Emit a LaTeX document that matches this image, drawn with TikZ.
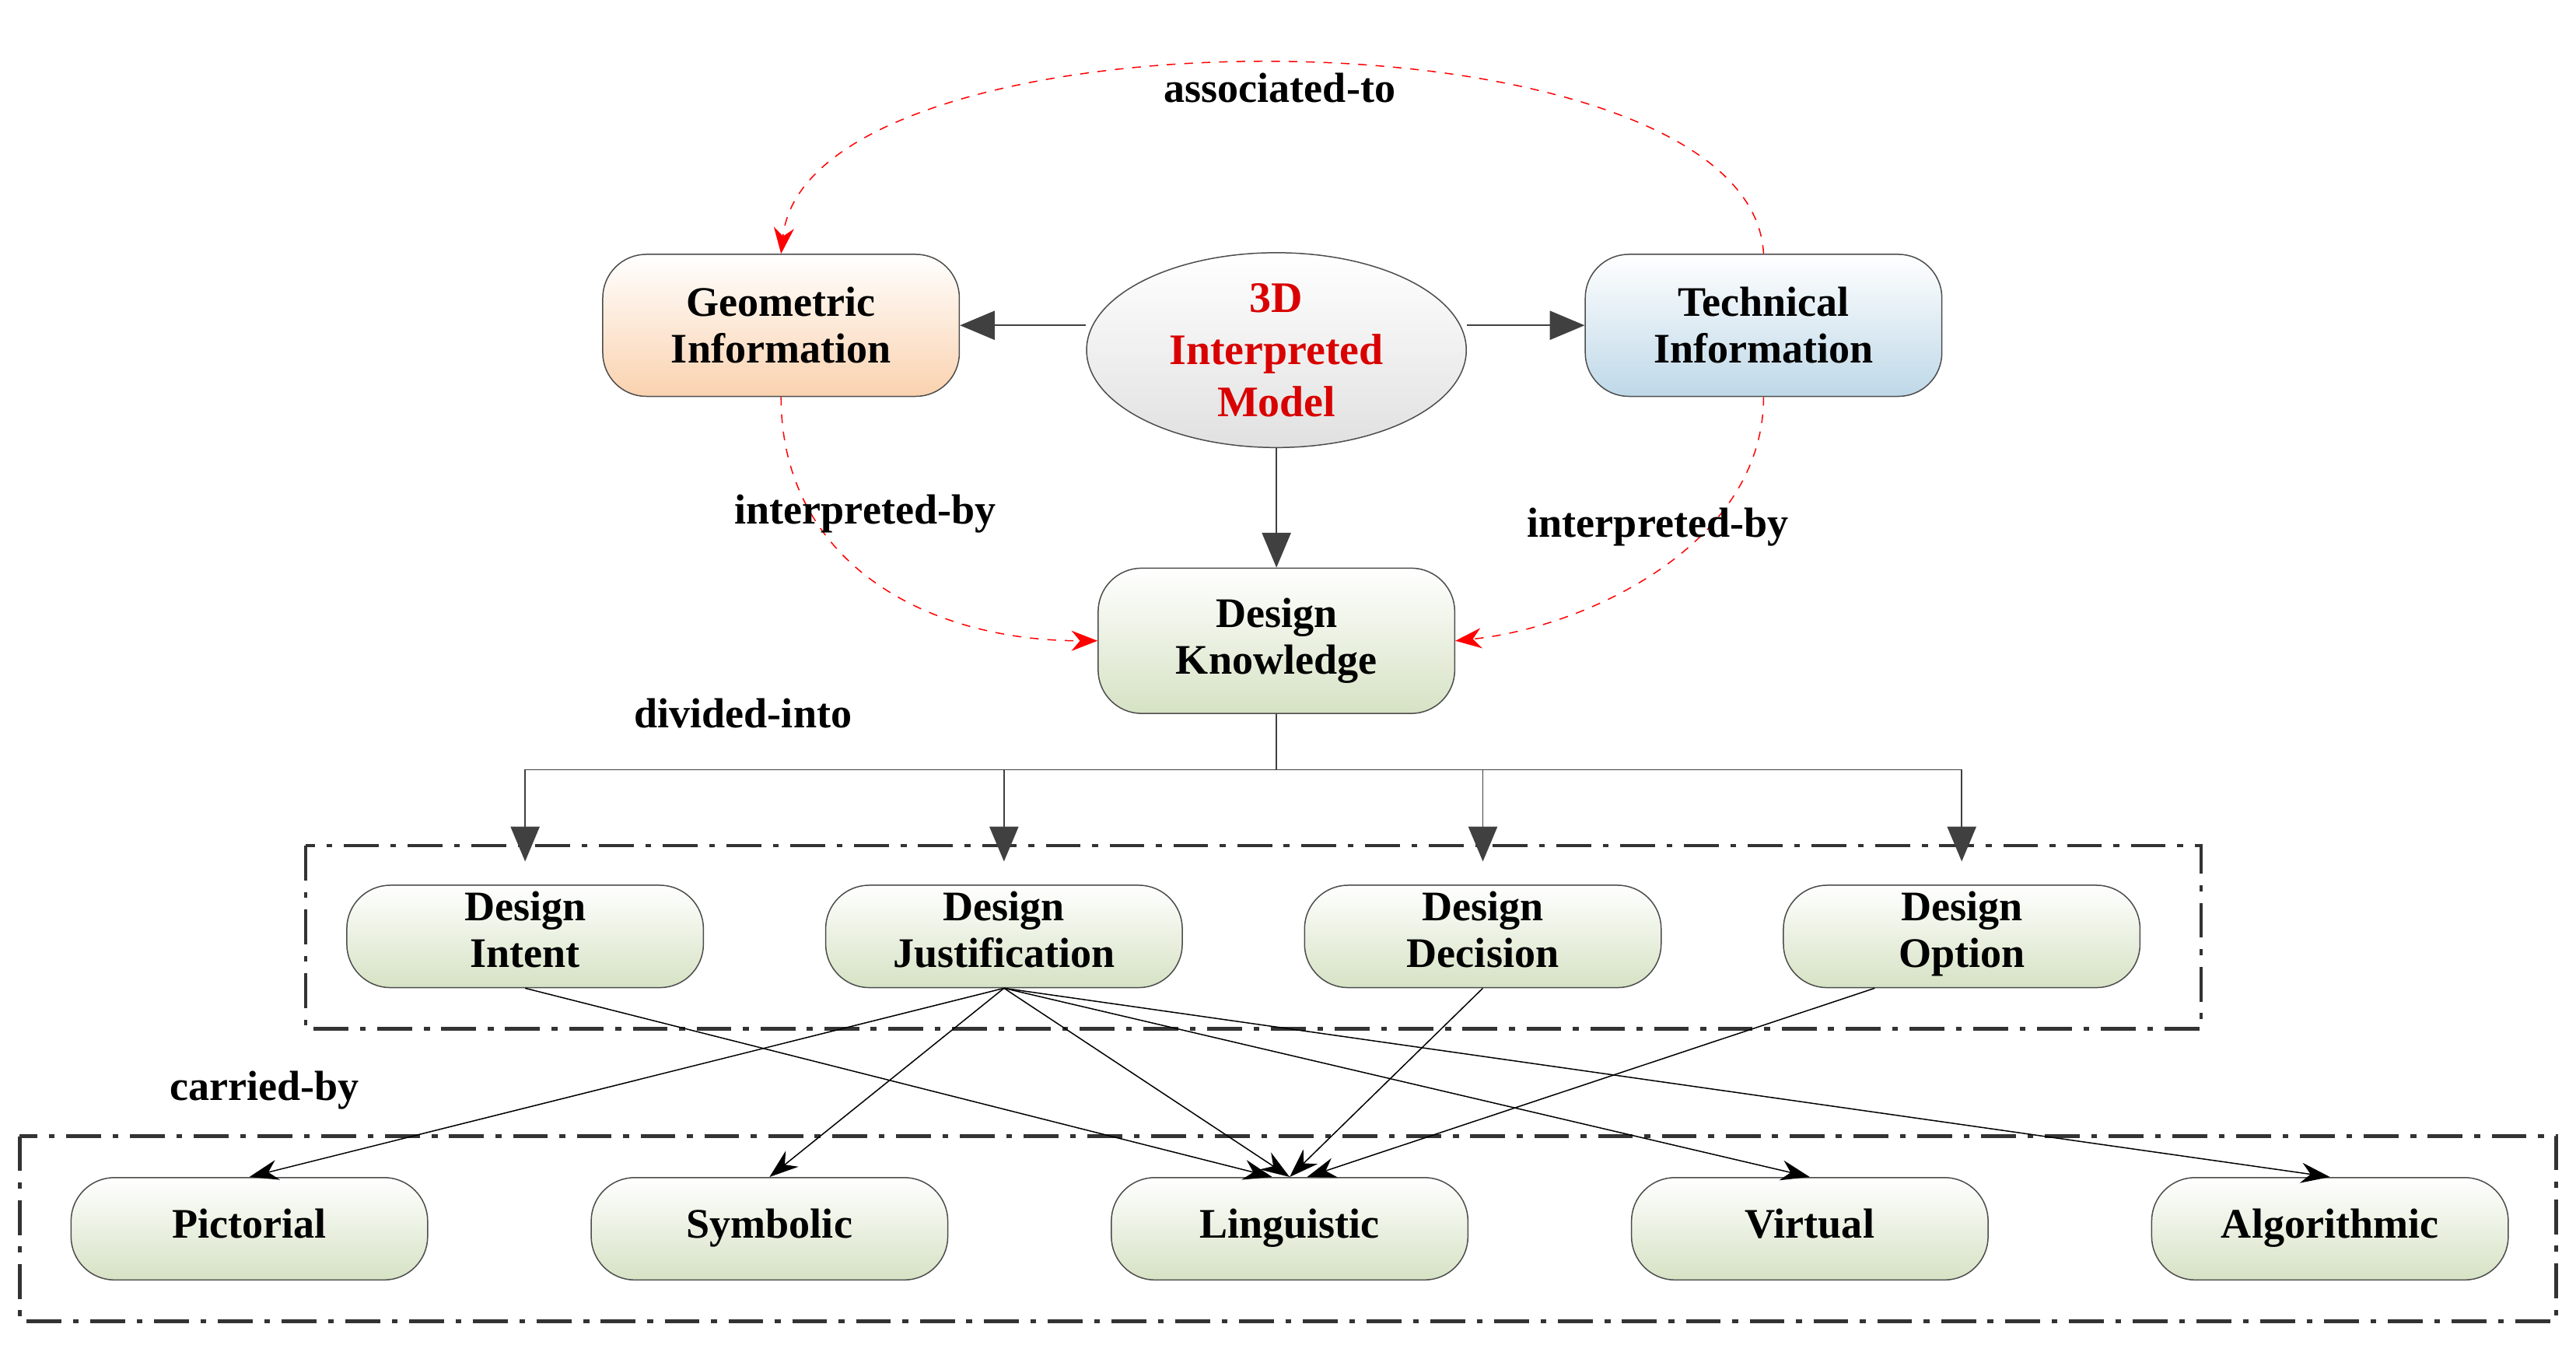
\documentclass[tikz,border=0pt]{standalone}
\usepackage{fontspec}
\setmainfont{Liberation Serif}
\usetikzlibrary{shapes.geometric,arrows.meta}
\definecolor{sage}{RGB}{214,226,196}
\definecolor{peach}{RGB}{250,210,175}
\definecolor{sky}{RGB}{190,216,232}
\begin{document}
\begin{tikzpicture}[
                  x = {(0.02cm,0)},
                  y = {(0,-0.02cm)},
     box/.style = {draw=black!70, rounded corners=15pt, minimum width=4.32cm,
                   align=center, font=\fontsize{14.5}{16}\selectfont\bfseries,
                   inner sep=1pt, top color=white},
   green/.style = {box, bottom color=sage},
    main/.style = {-{Triangle[length=12pt,width=10pt]}, draw=black!75},
    thin/.style = {-{Stealth[length=10pt,width=7pt]}, black},
    link/.style = {red, dashed, -{Stealth[length=9pt,width=7pt]}},
    word/.style = {font=\fontsize{14.5}{16}\selectfont\bfseries},
   group/.style = {draw=black!80, line width=1.2pt, dash pattern=on 12pt off 4pt on 2pt off 4pt},
                   ]
\useasboundingbox (0,0) rectangle (1560,814);
% top level
\node[ellipse, draw=black!70, top color=white, bottom color=black!12,
      minimum width=4.6cm, minimum height=2.36cm, align=center, inner sep=0pt,
      text=red!85!black, font=\fontsize{15}{18}\selectfont\bfseries] (model) at (773,212) {3D\\Interpreted\\Model};
\node[box, bottom color=peach, minimum height=1.72cm] (geo) at (473,197) {Geometric\\Information};
\node[box, bottom color=sky, minimum height=1.72cm] (tech) at (1068,197) {Technical\\Information};
\node[green, minimum height=1.76cm] (know) at (773,388) {Design\\Knowledge};
% second level
\foreach \n/\t/\x in {intent/Intent/318, just/Justification/608, deci/Decision/898, opt/Option/1188}
    \node[green, minimum height=1.24cm] (\n) at (\x,567) {Design\\\t\strut};
% carriers
\foreach \n/\t/\x in {pic/Pictorial/151, sym/Symbolic/466, lin/Linguistic/781, vir/Virtual/1096, alg/Algorithmic/1411}
    \node[green, minimum height=1.24cm] (\n) at (\x,744) {\strut\t};
\draw[group] (185,512) rectangle (1333,623);
\draw[group] (12,688) rectangle (1548,800);
% main arrows
\draw[main] (model.west |- geo) -- (geo);
\draw[main] (model.east |- tech) -- (tech);
\draw[main] (model) -- (know);
\coordinate (split) at (773,466);
\draw[draw=black!75] (know) -- (split);
\foreach \n in {intent, just, deci, opt}
    \draw[main] (split) -| ([yshift=8pt]\n.north);
% red links
\draw[link] (tech.north) .. controls (1060,0) and (490,0) .. (geo.north);
\draw[link] (geo.south) .. controls (473,340) and (560,388) .. (know.west);
\draw[link] (tech.south) .. controls (1068,330) and (960,380) .. (know.east);
\node[word] (assoc) at (775,53) {associated-to};
\node[word] (interp1) at (524,311) {interpreted-by};
\node[word] (interp2) at (1004,319) {interpreted-by};
\node[word] (divided) at (450,432) {divided-into};
\node[word] (carried) at (160,660) {carried-by};
% carried-by arrows
\draw[thin] (intent.south) -- ([xshift=-6pt]lin.north);
\foreach \n in {pic, sym, lin, vir, alg}
    \draw[thin] (just.south) -- (\n.north);
\draw[thin] (deci.south) -- (lin.north);
\draw[thin] ([xshift=-30pt]opt.south) -- ([xshift=6pt]lin.north);
\end{tikzpicture}
\end{document}
